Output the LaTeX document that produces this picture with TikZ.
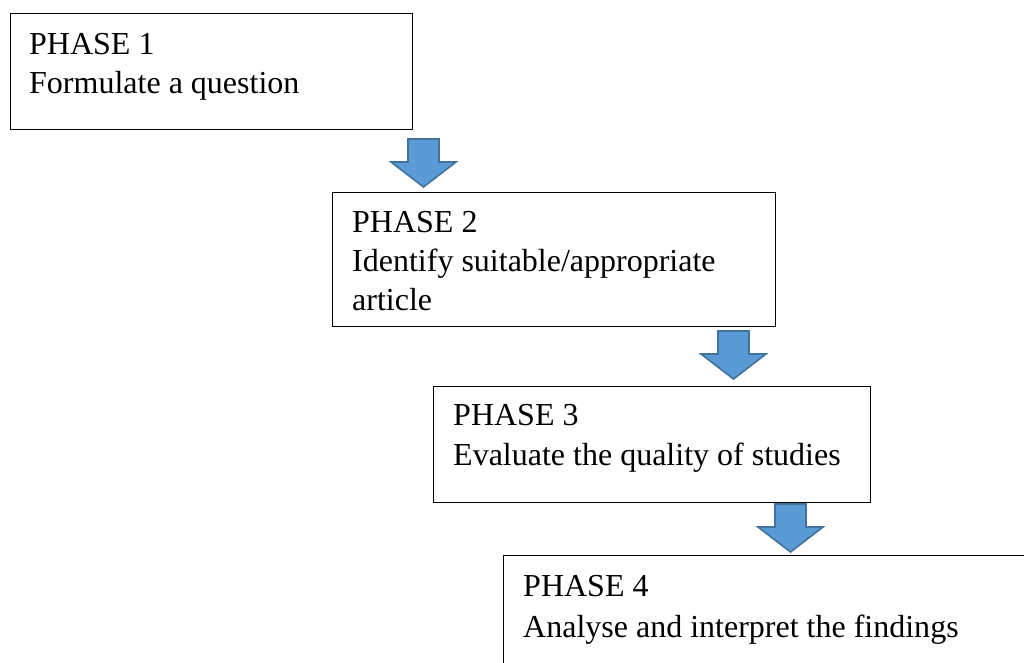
\documentclass[tikz,border=0pt]{standalone}
\usepackage{fontspec}
\setmainfont{Liberation Serif}
\usetikzlibrary{calc}
\definecolor{arrowfill}{HTML}{5B9BD5}
\definecolor{arrowline}{HTML}{41719C}
\tikzset{
  phasebox/.style={draw=black, line width=1.2pt, fill=white, anchor=north west, inner sep=0pt},
  phasetext/.style={anchor=base west, inner sep=0pt, font=\fontsize{32}{39}\selectfont},
  blockarrow/.style={fill=arrowfill, draw=arrowline, line width=1.6pt, line join=miter}
}
\begin{document}
\begin{tikzpicture}[x=1pt,y=1pt]
\clip (0,0) rectangle (1024,-662);
\fill[white] (0,0) rectangle (1024,-662);

% boxes
\node[phasebox, minimum width=402pt, minimum height=116pt] (p1) at (10,-13) {};
\node[phasebox, minimum width=443pt, minimum height=134pt] (p2) at (332,-192) {};
\node[phasebox, minimum width=437pt, minimum height=116pt] (p3) at (433,-386) {};
\node[phasebox, minimum width=540pt, minimum height=150pt] (p4) at (503,-555) {};

% texts
\node[phasetext] (t1a) at ($(p1.north west)+(19,-41)$) {PHASE 1};
\node[phasetext] (t1b) at ($(t1a.base west)+(0,-39)$) {Formulate a question};

\node[phasetext] (t2a) at ($(p2.north west)+(20,-40)$) {PHASE 2};
\node[phasetext] (t2b) at ($(t2a.base west)+(0,-39)$) {Identify suitable/appropriate};
\node[phasetext] (t2c) at ($(t2b.base west)+(0,-39)$) {article};

\node[phasetext] (t3a) at ($(p3.north west)+(20,-39)$) {PHASE 3};
\node[phasetext] (t3b) at ($(t3a.base west)+(0,-40)$) {Evaluate the quality of studies};

\node[phasetext] (t4a) at ($(p4.north west)+(20,-41)$) {PHASE 4};
\node[phasetext] (t4b) at ($(t4a.base west)+(0,-41)$) {Analyse and interpret the findings};

% block arrows
\coordinate (a1) at (423.5,-139);
\coordinate (a2) at (733.5,-331);
\coordinate (a3) at (790.5,-504);
\foreach \c in {a1,a2,a3}{
  \draw[blockarrow, shift={(\c)}] (-15.5,0) -- (15.5,0) -- (15.5,-23) -- (32.5,-23)
    -- (0,-48) -- (-32.5,-23) -- (-15.5,-23) -- cycle;
}
\end{tikzpicture}
\end{document}
